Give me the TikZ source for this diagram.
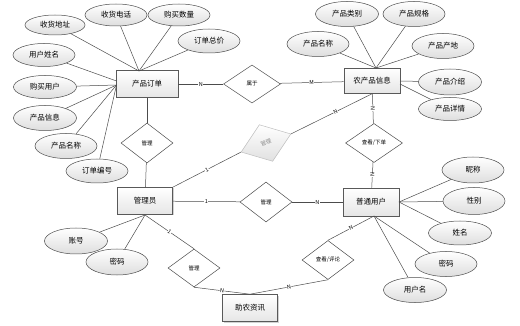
\documentclass[tikz,border=0pt]{standalone}
\usepackage{fontspec}
\setmainfont{Noto Sans CJK SC}
\usetikzlibrary{shapes.geometric,shadows}
\begin{document}
\begin{tikzpicture}[x=1pt,y=-1pt,
  ent/.style={draw=black!65, line width=0.6pt, top color=white, bottom color=black!10,
    minimum width=56pt, minimum height=27pt, inner sep=0pt, font=\fontsize{7.5}{8}\selectfont,
    drop shadow={shadow xshift=1pt, shadow yshift=-1pt, fill=black!35}},
  attr/.style={ellipse, draw=black!70, line width=0.5pt, top color=white, bottom color=black!13,
    minimum width=62pt, minimum height=24pt, inner sep=0pt, font=\fontsize{7.5}{8}\selectfont},
  rel/.style={diamond, draw=black!70, line width=0.5pt, fill=white, aspect=1.3,
    minimum width=52pt, minimum height=40pt, inner sep=0pt, font=\fontsize{5.5}{6}\selectfont},
  ln/.style={draw=black!70, line width=0.5pt},
  lab/.style={fill=white, inner sep=0.4pt, font=\fontsize{5.5}{6}\selectfont}
]
\useasboundingbox (0,0) rectangle (520,326);

% entities
\node[ent, minimum width=62pt] (po) at (147,84) {产品订单};
\node[ent, minimum height=25pt] (np) at (372,81) {农产品信息};
\node[ent, minimum width=55pt] (gly) at (145,201) {管理员};
\node[ent, minimum height=28pt] (pt) at (371,202) {普通用户};
\node[ent, minimum width=55pt] (zn) at (250,308) {助农资讯};

% relationships
\node[rel, minimum width=57pt, minimum height=38pt] (sy) at (252,84) {属于};
\node[rel] (gl1) at (147,143) {管理};
\node[rel, minimum width=57pt, minimum height=39pt] (ckx) at (374,143) {查看/下单};
\node[rel] (gl2) at (266,202) {管理};
\node[rel, minimum height=38pt] (gl3) at (194,268) {管理};
\node[rel, minimum height=39pt] (ckp) at (328,260) {查看/评论};
\node[diamond, draw=black!25, line width=0.5pt, top color=white, bottom color=black!12,
  minimum width=53pt, minimum height=39pt, aspect=1.36, inner sep=0pt, rotate=20,
  text=black!45, font=\fontsize{5.5}{6}\selectfont] (fd) at (266,143) {管理};

% order attributes
\node[attr, minimum width=60pt, minimum height=20pt] (a1) at (55,25) {收货地址};
\node[attr, minimum height=22pt] (a2) at (116,15) {收货电话};
\node[attr, minimum height=22pt] (a3) at (179,15) {购买数量};
\node[attr] (a4) at (209,41) {订单总价};
\node[attr, minimum height=23pt] (a5) at (44,55) {用户姓名};
\node[attr, minimum width=63pt, minimum height=23pt] (a6) at (45,87) {购买用户};
\node[attr, minimum width=63pt, minimum height=25pt] (a7) at (45,118) {产品信息};
\node[attr, minimum height=25pt] (a8) at (66,146) {产品名称};
\node[attr] (a9) at (97,171) {订单编号};

% product attributes
\node[attr, minimum height=25pt] (b1) at (318,44) {产品名称};
\node[attr, minimum width=63pt, minimum height=25pt] (b2) at (347,14) {产品类别};
\node[attr, minimum height=25pt] (b3) at (414,14) {产品规格};
\node[attr, minimum height=25pt] (b4) at (443,46) {产品产地};
\node[attr, minimum width=63pt, minimum height=26pt] (b5) at (450,82) {产品介绍};
\node[attr, minimum width=63pt, minimum height=23pt] (b6) at (450,109) {产品详情};

% user attributes
\node[attr, minimum height=26pt] (c1) at (473,170) {昵称};
\node[attr, minimum height=27pt] (c2) at (474,201) {性别};
\node[attr, minimum width=63pt] (c3) at (460,233) {姓名};
\node[attr, minimum height=25pt] (c4) at (446,264) {密码};
\node[attr, minimum width=63pt, minimum height=25pt] (c5) at (415,290) {用户名};

% admin attributes
\node[attr, minimum width=63pt, minimum height=26pt] (d1) at (76,241) {账号};
\node[attr, minimum height=26pt] (d2) at (117,262) {密码};

% convergence points
\coordinate (pot) at (139,71);
\coordinate (pol) at (116.5,85);
\coordinate (pol2) at (116.5,81);
\coordinate (npt) at (376,68);
\coordinate (npr) at (400,81);
\coordinate (npr2) at (400,84);
\coordinate (ptr) at (399,202);
\coordinate (ptb) at (374,216);
\coordinate (glb) at (145,215);

% attribute lines
\foreach \a in {a1,a2,a3,a4} \draw[ln] (\a) -- (pot);
\draw[ln] (a5) -- (pol2);
\foreach \a in {a6,a7,a8,a9} \draw[ln] (\a) -- (pol);
\foreach \a in {b1,b2,b3,b4} \draw[ln] (\a) -- (npt);
\draw[ln] (b5) -- (npr);
\draw[ln] (b6) -- (npr2);
\foreach \a in {c1,c2,c3} \draw[ln] (\a) -- (ptr);
\foreach \a in {c4,c5} \draw[ln] (\a) -- (ptb);
\foreach \a in {d1,d2} \draw[ln] (\a) -- (glb);

% relationship lines
\draw[ln] (po) -- node[lab]{N} (sy);
\draw[ln] (sy) -- node[lab]{M} (np);
\draw[ln] (po) -- (gl1);
\draw[ln] (gl1) -- (gly);
\draw[ln] (np) -- node[lab, rotate=90]{N} (ckx);
\draw[ln] (ckx) -- node[lab, rotate=90]{N} (pt);
\draw[ln] (gly) -- node[lab]{1} (gl2);
\draw[ln] (gl2) -- node[lab]{N} (pt);
\draw[ln] (gly.north east) -- node[lab, sloped]{1} (fd.west);
\draw[ln] (fd.east) -- node[lab, sloped, pos=0.55]{N} (np.south);
\draw[ln] (glb) -- node[lab, sloped]{1} (gl3.north);
\draw[ln] (gl3.south) -- node[lab, sloped]{N} (zn.north);
\draw[ln] (ptb) -- node[lab, sloped]{N} (ckp.north);
\draw[ln] (ckp.south) -- node[lab, sloped]{N} (zn.north);
\end{tikzpicture}
\end{document}
